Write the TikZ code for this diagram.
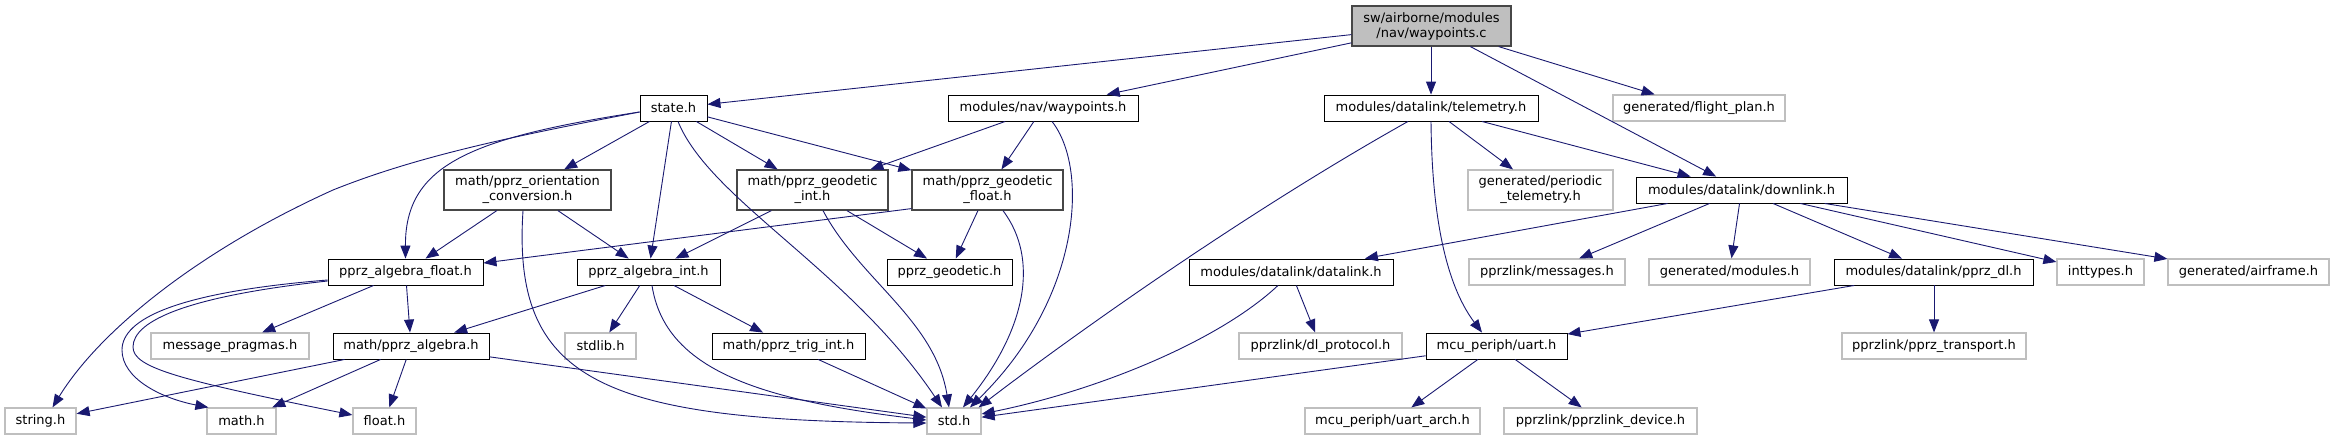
\documentclass[tikz,border=0pt]{standalone}
\usepackage{fontspec}
\setmainfont{DejaVu Sans}
\usetikzlibrary{arrows.meta,calc}
\definecolor{edgec}{HTML}{191970}
\definecolor{ugray}{HTML}{BFBFBF}
\definecolor{rootfill}{HTML}{BFBFBF}
\begin{document}
\begin{tikzpicture}[x=1pt,y=-1pt,
  base/.style={inner sep=0pt,align=center,font=\fontsize{13}{15}\selectfont},
  doc/.style={base,draw=black,line width=0.9pt,fill=white,minimum height=26pt},
  doctwo/.style={base,draw=black!72,line width=1.2pt,fill=white,minimum height=40pt},
  undoc/.style={base,draw=ugray,line width=1.2pt,fill=white,minimum height=26pt},
  undoctwo/.style={base,draw=ugray,line width=1.2pt,fill=white,minimum height=40pt},
  rootbox/.style={base,draw=black!72,line width=1.2pt,fill=rootfill,minimum height=40pt},
  edge/.style={draw=edgec,line width=0.9pt,-{Triangle[length=13pt,width=10pt]}}]
\useasboundingbox (0,0) rectangle (2334,440);
% row 0
\node[rootbox,minimum width=159pt] (root) at (1431.5,26) {sw/airborne/modules\\/nav/waypoints.c};
% row 1
\node[doc,minimum width=67pt] (state) at (673.5,108) {state.h};
\node[doc,minimum width=190pt] (navwp) at (1043,108) {modules/nav/waypoints.h};
\node[doc,minimum width=214pt] (telem) at (1431,108) {modules/datalink/telemetry.h};
\node[undoc,minimum width=172pt] (fplan) at (1699,108) {generated/flight\_plan.h};
% row 2
\node[doctwo,minimum width=167pt] (orient) at (527.5,190) {math/pprz\_orientation\\\_conversion.h};
\node[doctwo,minimum width=151pt] (gint) at (812.5,190) {math/pprz\_geodetic\\\_int.h};
\node[doctwo,minimum width=151pt] (gfloat) at (987.5,190) {math/pprz\_geodetic\\\_float.h};
\node[undoctwo,minimum width=145pt] (ptelem) at (1540.5,190) {generated/periodic\\\_telemetry.h};
\node[doc,minimum width=211pt] (downlink) at (1741.5,190) {modules/datalink/downlink.h};
% row 3
\node[doc,minimum width=155pt] (afloat) at (405.5,272) {pprz\_algebra\_float.h};
\node[doc,minimum width=143pt] (aint) at (648.5,272) {pprz\_algebra\_int.h};
\node[doc,minimum width=125pt] (geod) at (949.5,272) {pprz\_geodetic.h};
\node[doc,minimum width=204pt] (dlink) at (1291,272) {modules/datalink/datalink.h};
\node[undoc,minimum width=156pt] (msgs) at (1547,272) {pprzlink/messages.h};
\node[undoc,minimum width=161pt] (gmod) at (1729.5,272) {generated/modules.h};
\node[doc,minimum width=199pt] (pdl) at (1933.5,272) {modules/datalink/pprz\_dl.h};
\node[undoc,minimum width=87pt] (intt) at (2100.5,272) {inttypes.h};
\node[undoc,minimum width=161pt] (airf) at (2248.5,272) {generated/airframe.h};
% row 4
\node[undoc,minimum width=158pt] (pragmas) at (230,346) {message\_pragmas.h};
\node[doc,minimum width=156pt] (palg) at (411,346) {math/pprz\_algebra.h};
\node[undoc,minimum width=71pt] (stdlib) at (600.5,346) {stdlib.h};
\node[doc,minimum width=153pt] (trig) at (788.5,346) {math/pprz\_trig\_int.h};
\node[undoc,minimum width=163pt] (dlproto) at (1320.5,346) {pprzlink/dl\_protocol.h};
\node[doc,minimum width=141pt] (uart) at (1496.5,346) {mcu\_periph/uart.h};
\node[undoc,minimum width=184pt] (transp) at (1934,346) {pprzlink/pprz\_transport.h};
% row 5
\node[undoc,minimum width=71pt] (string) at (40.5,421) {string.h};
\node[undoc,minimum width=69pt] (math) at (241.5,421) {math.h};
\node[undoc,minimum width=63pt] (float) at (384.5,421) {float.h};
\node[undoc,minimum width=54pt] (std) at (954,421) {std.h};
\node[undoc,minimum width=175pt] (uartarch) at (1392.5,421) {mcu\_periph/uart\_arch.h};
\node[undoc,minimum width=193pt] (device) at (1600.5,421) {pprzlink/pprzlink\_device.h};

% edges from root
\draw[edge] (root) -- (state);
\draw[edge] (root) -- (navwp);
\draw[edge] (root.south -| telem.north) -- (telem.north);
\draw[edge] (root) -- (fplan);
\draw[edge] (root) -- (downlink);
% state.h
\draw[edge] (state) -- (orient);
\draw[edge] ($(state.west)+(0,4)$) .. controls (470,138) and (405,165) .. (afloat.north);
\draw[edge] ($(state.west)+(0,4)$) .. controls (520,135) and (420,155) .. (333,190)
  .. controls (200,250) and (100,330) .. ($(string.north)+(12,0)$);
\draw[edge] (state) -- (aint);
\draw[edge] ($(state.south)+(4.5,0)$) .. controls (710,200) and (850,270) .. ($(std.north)+(-12,0)$);
\draw[edge] (state) -- (gint);
\draw[edge] (state) -- (gfloat);
% waypoints.h
\draw[edge] (navwp) -- (gint);
\draw[edge] (navwp) -- (gfloat);
\draw[edge] ($(navwp.south)+(9,0)$) .. controls (1090,170) and (1080,300) .. ($(std.north)+(16,0)$);
% orientation conversion
\draw[edge] (orient) -- (afloat);
\draw[edge] (orient) -- (aint);
\draw[edge] ($(orient.south)+(-4.5,0)$) .. controls (512,380) and (600,421) .. ($(std.west)+(0,2)$);
% geodetic int
\draw[edge] (gint) -- (aint);
\draw[edge] (gint) -- (geod);
\draw[edge] ($(gint.south)+(10.5,0)$) .. controls (860,280) and (935,320) .. ($(std.north)+(-5,0)$);
% geodetic float
\draw[edge] ($(gfloat.south west)+(0,-2)$) -- ($(afloat.east)+(0,-9)$);
\draw[edge] (gfloat) -- (geod);
\draw[edge] ($(gfloat.south)+(15.5,0)$) .. controls (1040,260) and (1025,330) .. ($(std.north)+(9,0)$);
% algebra float
\draw[edge] (afloat) -- (pragmas);
\draw[edge] (afloat) -- (palg);
\draw[edge] ($(afloat.west)+(0,8)$) .. controls (180,292) and (122,318) .. (122,350)
  .. controls (122,378) and (160,398) .. ($(math.north west)+(2,0)$);
\draw[edge] ($(afloat.west)+(0,9)$) .. controls (190,296) and (133,320) .. (133,347)
  .. controls (133,368) and (180,380) .. ($(float.west)+(0,-6)$);
% algebra int
\draw[edge] (aint) -- (palg);
\draw[edge] (aint) -- (stdlib);
\draw[edge] (aint) -- (trig);
\draw[edge] ($(aint.south)+(3.5,0)$) .. controls (665,370) and (760,400) .. ($(std.west)+(0,-1)$);
% pprz_algebra
\draw[edge] (palg) -- (string);
\draw[edge] (palg) -- (math);
\draw[edge] (palg) -- (float);
\draw[edge] (palg) -- (std);
% trig
\draw[edge] (trig) -- (std);
% telemetry
\draw[edge] ($(telem.south)+(-23,0)$) .. controls (1250,210) and (1080,330) .. ($(std.north east)+(-3,0)$);
\draw[edge] (telem.south) .. controls (1432,230) and (1450,290) .. ($(uart.north)+(-14.5,0)$);
\draw[edge] (telem) -- (ptelem);
\draw[edge] (telem) -- (downlink);
% downlink
\draw[edge] (downlink) -- (dlink);
\draw[edge] (downlink) -- (msgs);
\draw[edge] (downlink) -- (gmod);
\draw[edge] (downlink) -- (pdl);
\draw[edge] (downlink) -- (intt);
\draw[edge] (downlink) -- (airf);
% datalink
\draw[edge] (dlink) -- (dlproto);
\draw[edge] ($(dlink.south)+(-13,0)$) .. controls (1220,340) and (1100,390) .. ($(std.east)+(0,-7)$);
% pprz_dl
\draw[edge] (pdl) -- (uart);
\draw[edge] (pdl.south -| transp.north) -- (transp.north);
% uart
\draw[edge] (uart) -- (std);
\draw[edge] (uart) -- (uartarch);
\draw[edge] (uart) -- (device);
\end{tikzpicture}
\end{document}
